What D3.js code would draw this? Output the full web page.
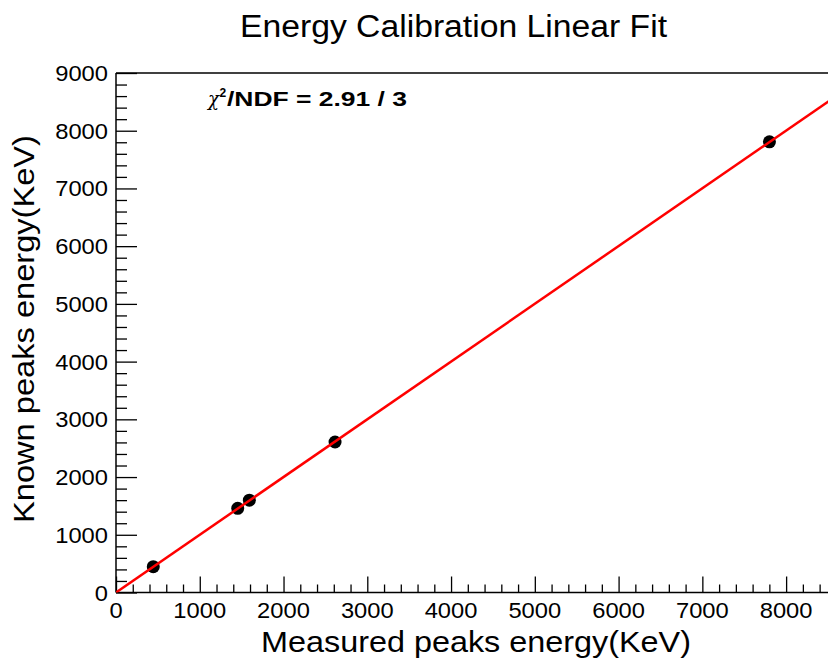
<!DOCTYPE html>
<html>
<head>
<meta charset="utf-8">
<script src="https://cdn.jsdelivr.net/npm/d3@7"></script>
<style>
  html, body { margin: 0; padding: 0; background: #fff; }
  svg { display: block; font-family: "Liberation Sans", Arial, Helvetica, sans-serif; }
</style>
</head>
<body>
<svg id="chart" width="828" height="661"></svg>
<script>
// Calibration points: measured peak energy vs. known line energy (keV)
const measured = [445, 1453, 1592, 2615, 7801];
const known    = [447, 1458, 1599, 2607, 7807];

// Linear fit result: known = slope * measured + offset
const fitSlope = 1.0003;
const fitOffset = 0;
const fitRange = [0, 8600];

const xTicks = [0, 1000, 2000, 3000, 4000, 5000, 6000, 7000, 8000];
const yTicks = [0, 1000, 2000, 3000, 4000, 5000, 6000, 7000, 8000, 9000];

const title = "Energy Calibration Linear Fit";
const xTitle = "Measured peaks energy(KeV)";
const yTitle = "Known peaks energy(KeV)";

const svg = d3.select("#chart");
const W = 828, H = 661;
const padL = 116, padR = 828, padT = 73, padB = 592.5;

const x = d3.scaleLinear().domain([0, 8500]).range([padL, padR]);
const y = d3.scaleLinear().domain([0, 9000]).range([padB, padT]);

// Wide glyph rendering: stretch text to a per-character width
const digitW = 13.2;

// Frame top edge
svg.append("line").attr("x1", padL).attr("x2", W).attr("y1", padT).attr("y2", padT)
  .attr("stroke", "#000").attr("stroke-width", 1.5);

// Axes with major and minor ticks
const xMinor = d3.range(0, 8500 + 1, 200).filter(v => v % 1000 !== 0);
const yMinor = d3.range(0, 9000 + 1, 200).filter(v => v % 1000 !== 0);

const gx = svg.append("g").attr("transform", `translate(0,${padB})`);
gx.call(d3.axisTop(x).tickValues(xMinor).tickSize(8).tickFormat(""));
gx.select(".domain").remove();
const gxMaj = svg.append("g").attr("transform", `translate(0,${padB})`);
gxMaj.call(d3.axisTop(x).tickValues(xTicks).tickSize(16).tickFormat(""));
gxMaj.select(".domain").remove();
svg.append("line").attr("x1", padL).attr("x2", W).attr("y1", padB).attr("y2", padB)
  .attr("stroke", "#000").attr("stroke-width", 1.5);

const gy = svg.append("g").attr("transform", `translate(${padL},0)`);
gy.call(d3.axisRight(y).tickValues(yMinor).tickSize(11).tickFormat(""));
gy.select(".domain").remove();
const gyMaj = svg.append("g").attr("transform", `translate(${padL},0)`);
gyMaj.call(d3.axisRight(y).tickValues(yTicks).tickSize(21).tickFormat(""));
gyMaj.select(".domain").remove();
svg.append("line").attr("x1", padL).attr("x2", padL).attr("y1", padT).attr("y2", padB)
  .attr("stroke", "#000").attr("stroke-width", 1.5);

svg.selectAll(".tick line").attr("stroke", "#000").attr("stroke-width", 1.3);

// Tick labels
svg.append("g").selectAll("text").data(xTicks).join("text")
  .attr("x", d => x(d)).attr("y", 618)
  .attr("text-anchor", "middle").attr("font-size", 22).attr("fill", "#000")
  .attr("textLength", d => String(d).length * digitW).attr("lengthAdjust", "spacingAndGlyphs")
  .text(d => d);
svg.append("g").selectAll("text").data(yTicks).join("text")
  .attr("x", 108).attr("y", d => y(d) + 8)
  .attr("text-anchor", "end").attr("font-size", 22).attr("fill", "#000")
  .attr("textLength", d => String(d).length * digitW).attr("lengthAdjust", "spacingAndGlyphs")
  .text(d => d);

// Axis titles
svg.append("text").attr("x", 476).attr("y", 652)
  .attr("text-anchor", "middle").attr("font-size", 29).attr("fill", "#000")
  .attr("textLength", 430).attr("lengthAdjust", "spacingAndGlyphs")
  .text(xTitle);
svg.append("text")
  .attr("transform", "translate(33.5,329) rotate(-90)")
  .attr("text-anchor", "middle").attr("font-size", 29).attr("fill", "#000")
  .attr("textLength", 388).attr("lengthAdjust", "spacingAndGlyphs")
  .text(yTitle);

// Chart title
svg.append("text").attr("x", 453.5).attr("y", 37)
  .attr("text-anchor", "middle").attr("font-size", 31).attr("fill", "#000")
  .attr("textLength", 427).attr("lengthAdjust", "spacingAndGlyphs")
  .text(title);

// Clip region for the plot area
svg.append("clipPath").attr("id", "plotClip").append("rect")
  .attr("x", padL).attr("y", padT).attr("width", W - padL).attr("height", padB - padT);

const plot = svg.append("g").attr("clip-path", "url(#plotClip)");

// Data points
const pts = measured.map((m, i) => ({ m, k: known[i] }));
plot.selectAll("circle").data(pts).join("circle")
  .attr("cx", d => x(d.m)).attr("cy", d => y(d.k)).attr("r", 6.5)
  .attr("fill", "#000");

// Fitted line
const line = d3.line().x(d => x(d)).y(d => y(fitSlope * d + fitOffset));
plot.append("path").datum(fitRange).attr("d", line)
  .attr("fill", "none").attr("stroke", "#ff0000").attr("stroke-width", 2.5);

// Fit quality label
const g2 = svg.append("g").attr("fill", "#000");
g2.append("text").attr("x", 208).attr("y", 106)
  .attr("font-family", "'DejaVu Serif', serif").attr("font-style", "italic")
  .attr("font-size", 20).attr("textLength", 11).attr("lengthAdjust", "spacingAndGlyphs")
  .text("χ");
g2.append("text").attr("x", 219.5).attr("y", 97)
  .attr("font-weight", "bold").attr("font-size", 12)
  .text("2");
g2.append("text").attr("x", 227).attr("y", 106)
  .attr("font-weight", "bold").attr("font-size", 20)
  .attr("textLength", 180).attr("lengthAdjust", "spacingAndGlyphs")
  .text("/NDF = 2.91 / 3");
</script>
</body>
</html>
